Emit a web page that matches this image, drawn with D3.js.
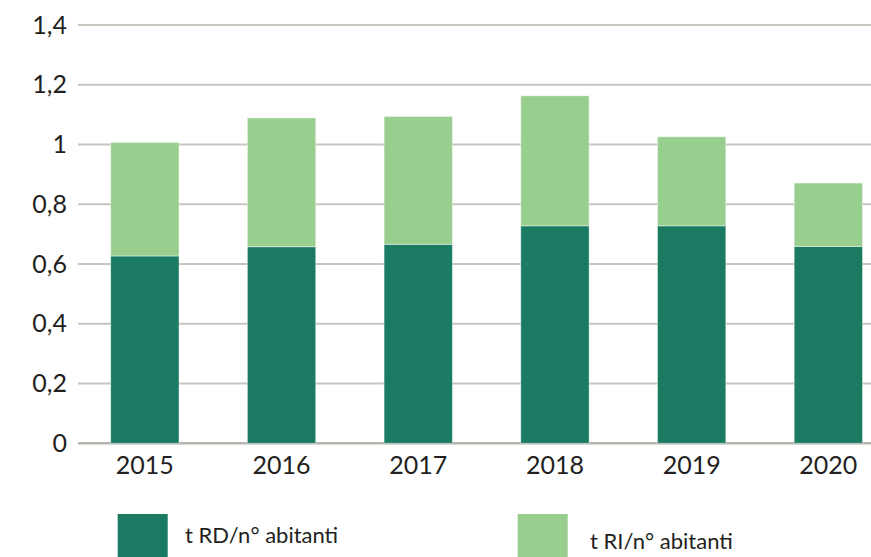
<!DOCTYPE html>
<html>
<head>
<meta charset="utf-8">
<script src="https://cdn.jsdelivr.net/npm/d3@7"></script>
<style>
  body { margin: 0; background: #fff; }
  svg { display: block; font-family: Lato, "Open Sans", sans-serif; }
</style>
</head>
<body>
<svg></svg>
<script>
// data
const years = ["2015", "2016", "2017", "2018", "2019", "2020"];
const rd = [0.627, 0.658, 0.666, 0.728, 0.728, 0.659];   // t RD/n° abitanti
const ri = [0.380, 0.431, 0.428, 0.435, 0.298, 0.212];   // t RI/n° abitanti
const seriesNames = ["t RD/n° abitanti", "t RI/n° abitanti"];
const yTicks = [0, 0.2, 0.4, 0.6, 0.8, 1, 1.2, 1.4];

const width = 871, height = 557;
const darkGreen = "#1a7a62", lightGreen = "#98ce8e";

const svg = d3.select("svg")
  .attr("width", width)
  .attr("height", height);

const rows = years.map((y, i) => ({ year: y, rd: rd[i], ri: ri[i] }));
const stacked = d3.stack().keys(["rd", "ri"])(rows);

// scales
const x = d3.scaleBand()
  .domain(years)
  .range([76.5, 896.7])
  .paddingInner(0.5)
  .paddingOuter(0.25);

const y = d3.scaleLinear()
  .domain([0, 1.4])
  .range([443.3, 25]);

const it = d3.formatLocale({ decimal: ",", thousands: ".", grouping: [3], currency: ["", "€"] });
const fmt = it.format(".1~f");

// gridlines (behind bars)
svg.append("g")
  .selectAll("line")
  .data(yTicks)
  .join("line")
  .attr("x1", 78)
  .attr("x2", width)
  .attr("y1", d => y(d))
  .attr("y2", d => y(d))
  .attr("stroke", d => d === 0 ? "#b4b4ac" : "#c6c6be")
  .attr("stroke-width", d => d === 0 ? 2.4 : 2);

// y axis labels
const yAxis = svg.append("g")
  .attr("transform", "translate(78,0)")
  .call(d3.axisLeft(y).tickValues(yTicks).tickFormat(fmt).tickSize(0).tickPadding(11));
yAxis.select(".domain").remove();
yAxis.selectAll("text")
  .attr("font-size", 25)
  .attr("font-family", "Lato, 'Open Sans', sans-serif")
  .attr("fill", "#231f20");

// bars
const colors = [darkGreen, lightGreen];
svg.append("g")
  .selectAll("g")
  .data(stacked)
  .join("g")
  .attr("fill", (d, i) => colors[i])
  .selectAll("rect")
  .data(d => d)
  .join("rect")
  .attr("x", d => x(d.data.year))
  .attr("width", x.bandwidth())
  .attr("y", d => y(d[1]))
  .attr("height", d => y(d[0]) - y(d[1]))
  .attr("stroke", "rgba(255,255,255,0.45)")
  .attr("stroke-width", 1);

// x axis labels
const xAxis = svg.append("g")
  .attr("transform", "translate(0,444)")
  .call(d3.axisBottom(x).tickSize(0).tickPadding(12));
xAxis.select(".domain").remove();
xAxis.selectAll("text")
  .attr("font-size", 25)
  .attr("font-family", "Lato, 'Open Sans', sans-serif")
  .attr("fill", "#231f20");

// legend
const legend = [
  { name: seriesNames[0], color: darkGreen, x: 117.7, textX: 185, baseline: 543 },
  { name: seriesNames[1], color: lightGreen, x: 517.7, textX: 590, baseline: 548.5 }
];
const lg = svg.append("g")
  .selectAll("g")
  .data(legend)
  .join("g");
lg.append("rect")
  .attr("x", d => d.x)
  .attr("y", 514)
  .attr("width", 50)
  .attr("height", 50)
  .attr("fill", d => d.color);
lg.append("text")
  .attr("x", d => d.textX)
  .attr("y", d => d.baseline)
  .attr("font-size", 22)
  .attr("fill", "#231f20")
  .text(d => d.name);
</script>
</body>
</html>
